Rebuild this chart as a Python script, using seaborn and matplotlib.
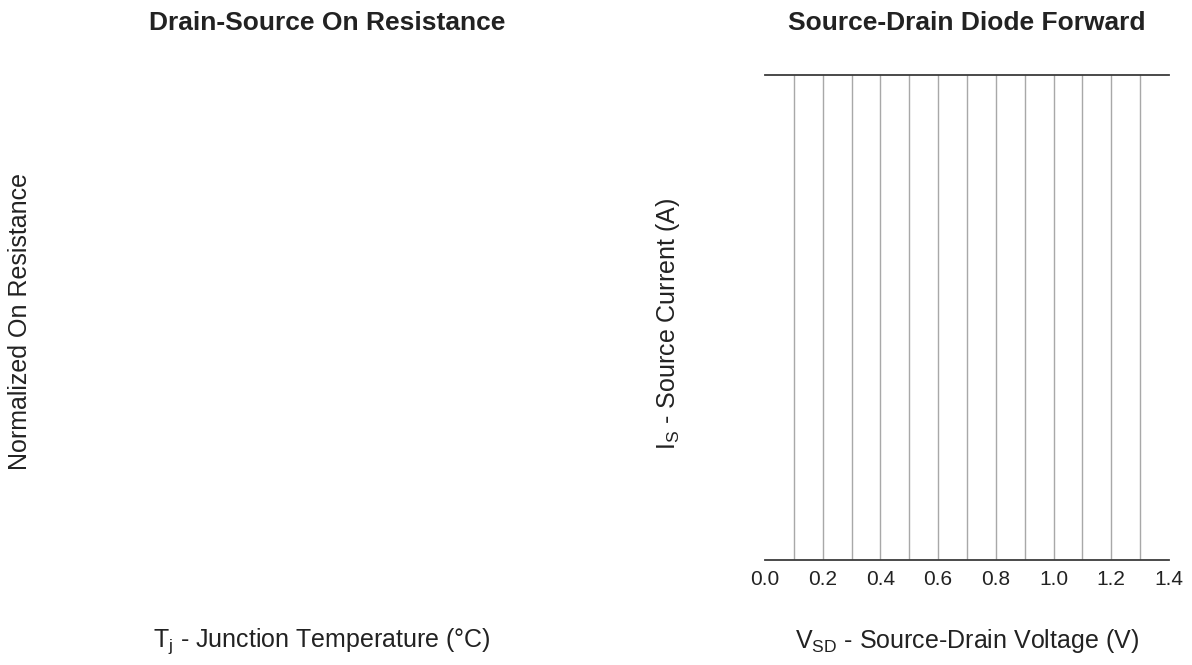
import matplotlib
matplotlib.use("Agg")
import matplotlib.pyplot as plt
import seaborn as sns

# Panel titles, axis labels and voltage-axis ticks
panel_titles = ["Drain-Source On Resistance", "Source-Drain Diode Forward"]
y_labels = ["Normalized On Resistance", r"I$_\mathregular{S}$ - Source Current (A)"]
x_labels = [r"T$_\mathregular{j}$ - Junction Temperature (°C)",
            r"V$_\mathregular{SD}$ - Source-Drain Voltage (V)"]
vsd_ticks = [0.0, 0.2, 0.4, 0.6, 0.8, 1.0, 1.2, 1.4]
vsd_grid = [0.1, 0.2, 0.3, 0.4, 0.5, 0.6, 0.7, 0.8, 0.9, 1.0, 1.1, 1.2, 1.3]
vsd_range = [0.0, 1.4]

sns.set_theme(style="white")
plt.rcParams["font.family"] = ["Liberation Sans", "DejaVu Sans"]

fig = plt.figure(figsize=(11.92, 6.65), dpi=100)
W, H = 1192, 665

def box(x0, y0, x1, y1):
    return [x0 / W, 1 - y1 / H, (x1 - x0) / W, (y1 - y0) / H]

# Left panel: empty plotting area
ax_l = fig.add_axes(box(120, 75, 524, 560))
ax_l.set_axis_off()

# Right panel: diode forward characteristic frame
ax_r = fig.add_axes(box(765, 75, 1169, 560))
ax_r.set_xlim(*vsd_range)
ax_r.set_ylim(0, 1)
sns.despine(ax=ax_r, left=True, right=True, top=False, bottom=False)
for s in ["top", "bottom"]:
    ax_r.spines[s].set_color("#3c3c3c")
    ax_r.spines[s].set_linewidth(1.3)
for x in vsd_grid:
    ax_r.axvline(x, color="#a8a8a8", lw=1.0)
ax_r.set_xticks(vsd_ticks)
ax_r.set_xticklabels([f"{v:.1f}" for v in vsd_ticks])
ax_r.set_yticks([])
ax_r.tick_params(axis="x", length=0, pad=7, labelsize=15, colors="#222222")

tc = "#222222"
fig.text(327 / W, 1 - 23 / H, panel_titles[0], ha="center", va="center",
         fontsize=19, fontweight="bold", color=tc)
fig.text(967 / W, 1 - 23 / H, panel_titles[1], ha="center", va="center",
         fontsize=19, fontweight="bold", color=tc)

fig.text(20 / W, 1 - 322 / H, y_labels[0], rotation=90,
         ha="center", va="center", fontsize=18, color=tc)
fig.text(668 / W, 1 - 324 / H, y_labels[1], rotation=90,
         ha="center", va="center", fontsize=18, color=tc)
fig.text(322 / W, 1 - 641 / H, x_labels[0],
         ha="center", va="center", fontsize=18, color=tc)
fig.text(967 / W, 1 - 641 / H, x_labels[1],
         ha="center", va="center", fontsize=18, color=tc)

fig.savefig("out.png", dpi=100)
